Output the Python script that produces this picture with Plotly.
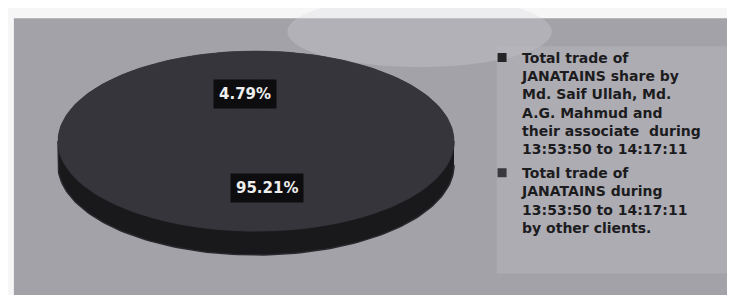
import numpy as np
import plotly.graph_objects as go

# ---- data ----
labels = [
    "Total trade of<br>JANATAINS share by<br>Md. Saif Ullah, Md.<br>A.G. Mahmud and<br>their associate  during<br>13:53:50 to 14:17:11",
    "Total trade of<br>JANATAINS during<br>13:53:50 to 14:17:11<br>by other clients.",
]
values = [4.79, 95.21]
slice_colors = ["#36353b", "#36353b"]
legend_colors = ["#252527", "#39383d"]

# ---- geometry (pixel-like axis units) ----
W, H = 735, 295
cx, cy, rx, ry, depth = 248, 133, 198, 90, 24
start_deg = -15.0
label_r = 0.52
face_color = "#36353b"


def proj(theta_deg, r=1.0, dy=0.0):
    t = np.radians(theta_deg)
    return cx + r * rx * np.sin(t), cy - r * ry * np.cos(t) + dy


fig = go.Figure()

# side (3D edge): front half of the ellipse extruded downward
a = np.linspace(90, 270, 120)
xs_top, ys_top = proj(a)
xs_bot, ys_bot = proj(a[::-1], dy=depth)
fig.add_trace(go.Scatter(
    x=np.concatenate([xs_top, xs_bot]), y=np.concatenate([ys_top, ys_bot]),
    fill="toself", fillcolor="#19191c", mode="lines",
    line=dict(color="#2a292e", width=1.5), hoverinfo="skip", showlegend=False))

# full top face underneath the slices (hides anti-aliasing seams)
full = np.linspace(0, 360, 240)
fx, fy = proj(full)
fig.add_trace(go.Scatter(
    x=fx, y=fy, fill="toself", fillcolor=face_color, mode="lines",
    line=dict(color=face_color, width=0.5), hoverinfo="skip", showlegend=False))

total = sum(values)
cum = start_deg
annotations = []
for i, (lab, v) in enumerate(zip(labels, values)):
    span = v / total * 360.0
    ang = np.linspace(cum, cum + span, max(8, int(span * 2)))
    px, py = proj(ang)
    fig.add_trace(go.Scatter(
        x=np.concatenate([[cx], px, [cx]]), y=np.concatenate([[cy], py, [cy]]),
        fill="toself", fillcolor=slice_colors[i], mode="none",
        hoverinfo="skip", showlegend=False))
    mx, my = proj(cum + span / 2, r=label_r)
    annotations.append(dict(
        x=mx, y=my, xref="x", yref="y", showarrow=False,
        text=f"<b>{v / total * 100:.2f}%</b>",
        font=dict(family="DejaVu Sans", size=15, color="#eeeeee"),
        bgcolor="#0d0d0f", borderpad=5))
    cum += span

# legend entries
for i, lab in enumerate(labels):
    fig.add_trace(go.Scatter(
        x=[None], y=[None], mode="markers", name=lab, legendgroup=f"g{i}",
        marker=dict(symbol="square", size=9, color=legend_colors[i])))

shapes = [
    dict(type="rect", xref="paper", yref="paper", x0=0.008, x1=1, y0=0.02, y1=0.965,
         fillcolor="#a4a2a9", line=dict(width=0), layer="below"),
    dict(type="circle", xref="paper", yref="paper", x0=0.38, x1=0.74, y0=0.80, y1=1.04,
         fillcolor="#d6d5da", opacity=0.3, line=dict(width=0), layer="below"),
    dict(type="rect", xref="paper", yref="paper", x0=0.665, x1=0.988, y0=0.10, y1=0.87,
         fillcolor="#bbb9bf", opacity=0.45, line=dict(width=0), layer="below"),
]

fig.update_layout(
    width=W, height=H, margin=dict(l=0, r=0, t=0, b=0),
    paper_bgcolor="#f6f6f6", plot_bgcolor="rgba(0,0,0,0)",
    xaxis=dict(range=[0, W], visible=False, fixedrange=True),
    yaxis=dict(range=[H, 0], visible=False, fixedrange=True),
    shapes=shapes, annotations=annotations,
    showlegend=True,
    legend=dict(x=0.645, y=0.885, xanchor="left", yanchor="top",
                valign="top", tracegroupgap=3, itemwidth=30,
                bgcolor="rgba(0,0,0,0)",
                font=dict(family="DejaVu Sans", size=14, color="#1c1c1e",
                          weight="bold")),
)

fig.write_html("out.html")
